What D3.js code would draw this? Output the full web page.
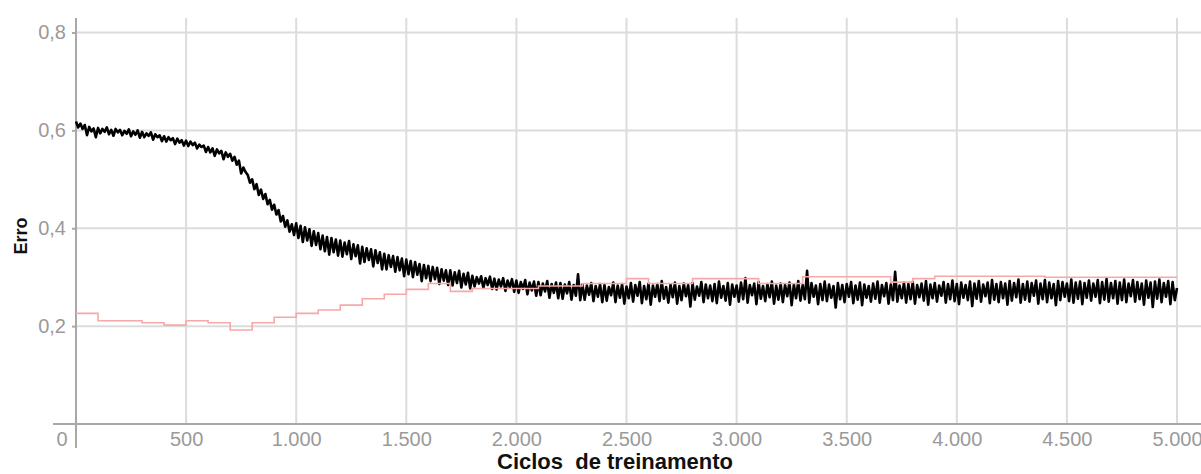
<!DOCTYPE html>
<html>
<head>
<meta charset="utf-8">
<script src="https://cdn.jsdelivr.net/npm/d3@7"></script>
<style>
  html, body { margin: 0; padding: 0; background: #fff; }
  svg { display: block; }
</style>
</head>
<body>
<svg id="chart" width="1201" height="474"></svg>
<script>
// ---- data ----
const xTicks = [0, 500, 1000, 1500, 2000, 2500, 3000, 3500, 4000, 4500, 5000];
const yTicks = [0.2, 0.4, 0.6, 0.8];
const xTitle = "Ciclos  de treinamento";
const yTitle = "Erro";

const errCycles = d3.range(0, 5001, 10);
const errValues = [
  .618,.606,.614,.603,.611,.590,.607,.598,.604,.586,
  .605,.594,.603,.597,.606,.592,.601,.589,.603,.596,
  .601,.590,.599,.593,.602,.588,.598,.591,.600,.585,
  .597,.586,.594,.589,.596,.581,.592,.586,.590,.578,
  .588,.577,.586,.580,.584,.572,.583,.575,.580,.569,
  .579,.568,.577,.570,.575,.563,.571,.566,.569,.556,
  .566,.555,.563,.548,.561,.553,.558,.541,.555,.546,
  .552,.538,.546,.530,.538,.512,.524,.515,.509,.493,
  .500,.480,.490,.468,.479,.460,.470,.449,.458,.438,
  .448,.428,.437,.414,.425,.403,.416,.393,.408,.386,
  .410,.380,.405,.372,.402,.375,.398,.364,.394,.366,
  .390,.357,.385,.353,.382,.346,.380,.351,.377,.344,
  .375,.342,.371,.347,.374,.337,.367,.343,.365,.328,
  .362,.331,.359,.335,.357,.322,.355,.329,.351,.316,
  .348,.316,.345,.321,.343,.311,.341,.314,.338,.302,
  .336,.306,.333,.300,.331,.305,.327,.292,.325,.298,
  .323,.292,.321,.296,.319,.286,.316,.293,.314,.284,
  .314,.283,.310,.288,.313,.279,.307,.285,.309,.277,
  .303,.281,.300,.287,.302,.278,.298,.284,.301,.276,
  .297,.275,.295,.281,.298,.272,.293,.279,.296,.270,
  .293,.268,.290,.276,.294,.265,.289,.273,.291,.262,
  .290,.263,.287,.271,.292,.258,.286,.268,.289,.257,
  .288,.256,.285,.267,.290,.254,.284,.262,.306,.253,
  .285,.254,.283,.264,.288,.251,.282,.260,.286,.249,
  .284,.252,.280,.263,.289,.249,.283,.258,.286,.246,
  .281,.257,.288,.250,.284,.262,.290,.247,.282,.255,
  .287,.244,.283,.260,.286,.251,.292,.256,.280,.248,
  .285,.259,.289,.246,.282,.253,.287,.261,.284,.240,
  .288,.254,.281,.262,.290,.249,.285,.257,.283,.251,
  .286,.247,.291,.258,.282,.252,.288,.244,.285,.260,
  .283,.250,.289,.255,.298,.248,.284,.263,.287,.245,
  .290,.256,.282,.251,.286,.259,.291,.246,.283,.254,
  .287,.249,.284,.261,.289,.243,.285,.257,.292,.252,
  .284,.255,.313,.248,.288,.260,.283,.245,.286,.253,
  .291,.251,.285,.258,.282,.238,.288,.255,.284,.249,
  .286,.260,.290,.247,.283,.254,.289,.243,.285,.258,
  .282,.250,.287,.256,.291,.248,.284,.261,.288,.246,
  .285,.253,.311,.250,.283,.257,.289,.248,.286,.255,
  .290,.246,.284,.259,.287,.252,.292,.244,.285,.257,
  .288,.250,.283,.262,.290,.248,.286,.255,.293,.251,
  .286,.245,.289,.258,.284,.253,.291,.241,.287,.256,
  .292,.250,.285,.261,.289,.247,.294,.254,.286,.249,
  .290,.257,.287,.244,.292,.252,.288,.259,.295,.248,
  .286,.254,.291,.250,.288,.262,.293,.246,.287,.255,
  .294,.249,.289,.257,.286,.243,.292,.253,.290,.260,
  .287,.251,.295,.248,.289,.256,.291,.245,.288,.258,
  .293,.252,.287,.260,.294,.247,.290,.254,.296,.250,
  .288,.257,.292,.246,.289,.253,.295,.249,.287,.261,
  .294,.250,.290,.255,.287,.244,.293,.258,.289,.239,
  .291,.256,.295,.249,.288,.260,.292,.245,.290,.253,
  .278
];

// reference (pink) stepped series, every 100 cycles
const refCycles = d3.range(0, 5001, 100);
const refValues = [
  .226,.211,.211,.207,.202,.211,.207,.192,.207,.218,
  .226,.233,.243,.256,.265,.275,.287,.271,.277,.277,
  .277,.282,.282,.287,.287,.297,.287,.287,.297,.297,
  .297,.287,.287,.301,.301,.301,.301,.290,.297,.302,
  .302,.302,.302,.302,.300,.300,.300,.300,.300,.300,
  .300
];

// ---- drawing ----
const svg = d3.select("#chart");
const x = d3.scaleLinear().domain([0, 5000]).range([76, 1177]);
const y = d3.scaleLinear().domain([0, 0.8]).range([424, 32.5]);

const locale = d3.formatLocale({decimal: ",", thousands: ".", grouping: [3], currency: ["R$", ""]});
const fx = locale.format(",d");
const fy = locale.format(".1f");

const FONT = "'Liberation Sans', Arial, sans-serif";
const gridColor = "#dcdcdc";
const axisColor = "#a8a8a8";
const labelColor = "#9a9a9a";

// grid
svg.append("g").selectAll("line").data(xTicks.filter(d => d > 0)).join("line")
  .attr("x1", d => x(d)).attr("x2", d => x(d))
  .attr("y1", 18).attr("y2", y(0))
  .attr("stroke", gridColor).attr("stroke-width", 2);
svg.append("g").selectAll("line").data(yTicks).join("line")
  .attr("x1", x(0)).attr("x2", 1201)
  .attr("y1", d => y(d)).attr("y2", d => y(d))
  .attr("stroke", gridColor).attr("stroke-width", 2);

// axes
const yAxis = svg.append("g").attr("transform", `translate(${x(0)},0)`)
  .call(d3.axisLeft(y).tickValues(yTicks).tickFormat(fy).tickSize(4).tickPadding(6));
yAxis.select(".domain").remove();
yAxis.selectAll("line").attr("stroke", axisColor).attr("stroke-width", 2);
yAxis.selectAll("text").attr("fill", labelColor).style("font-family", FONT).style("font-size", "20px");

const xAxis = svg.append("g").attr("transform", `translate(0,${y(0)})`)
  .call(d3.axisBottom(x).tickValues(xTicks).tickFormat(fx).tickSize(0).tickPadding(8));
xAxis.select(".domain").remove();
xAxis.selectAll("text").attr("fill", labelColor).style("font-family", FONT).style("font-size", "20px");
xAxis.selectAll(".tick").filter(d => d === 0).select("text")
  .attr("text-anchor", "end").attr("dx", "-9");

// axis lines
svg.append("line").attr("x1", 53).attr("x2", 1201).attr("y1", y(0)).attr("y2", y(0))
  .attr("stroke", axisColor).attr("stroke-width", 2);
svg.append("line").attr("x1", x(0)).attr("x2", x(0)).attr("y1", 18).attr("y2", 448)
  .attr("stroke", axisColor).attr("stroke-width", 2);

// black error series
const errLine = d3.line().x((d, i) => x(errCycles[i])).y(d => y(d));
svg.append("path").datum(errValues)
  .attr("d", errLine).attr("fill", "none")
  .attr("stroke", "#000").attr("stroke-width", 2.6).attr("stroke-linejoin", "round");

// pink reference series
const refLine = d3.line().curve(d3.curveStepAfter).x((d, i) => x(refCycles[i])).y(d => y(d));
svg.append("path").datum(refValues)
  .attr("d", refLine).attr("fill", "none")
  .attr("stroke", "#f7a8a8").attr("stroke-width", 1.6);

// titles
svg.append("text").text(xTitle)
  .attr("x", 615).attr("y", 469).attr("text-anchor", "middle")
  .style("font-family", FONT).style("font-size", "22px").style("font-weight", "bold")
  .style("white-space", "pre").attr("fill", "#111");
svg.append("text").text(yTitle)
  .attr("transform", "translate(27,236) rotate(-90)").attr("text-anchor", "middle")
  .style("font-family", FONT).style("font-size", "18px").style("font-weight", "bold")
  .attr("fill", "#111");
</script>
</body>
</html>
